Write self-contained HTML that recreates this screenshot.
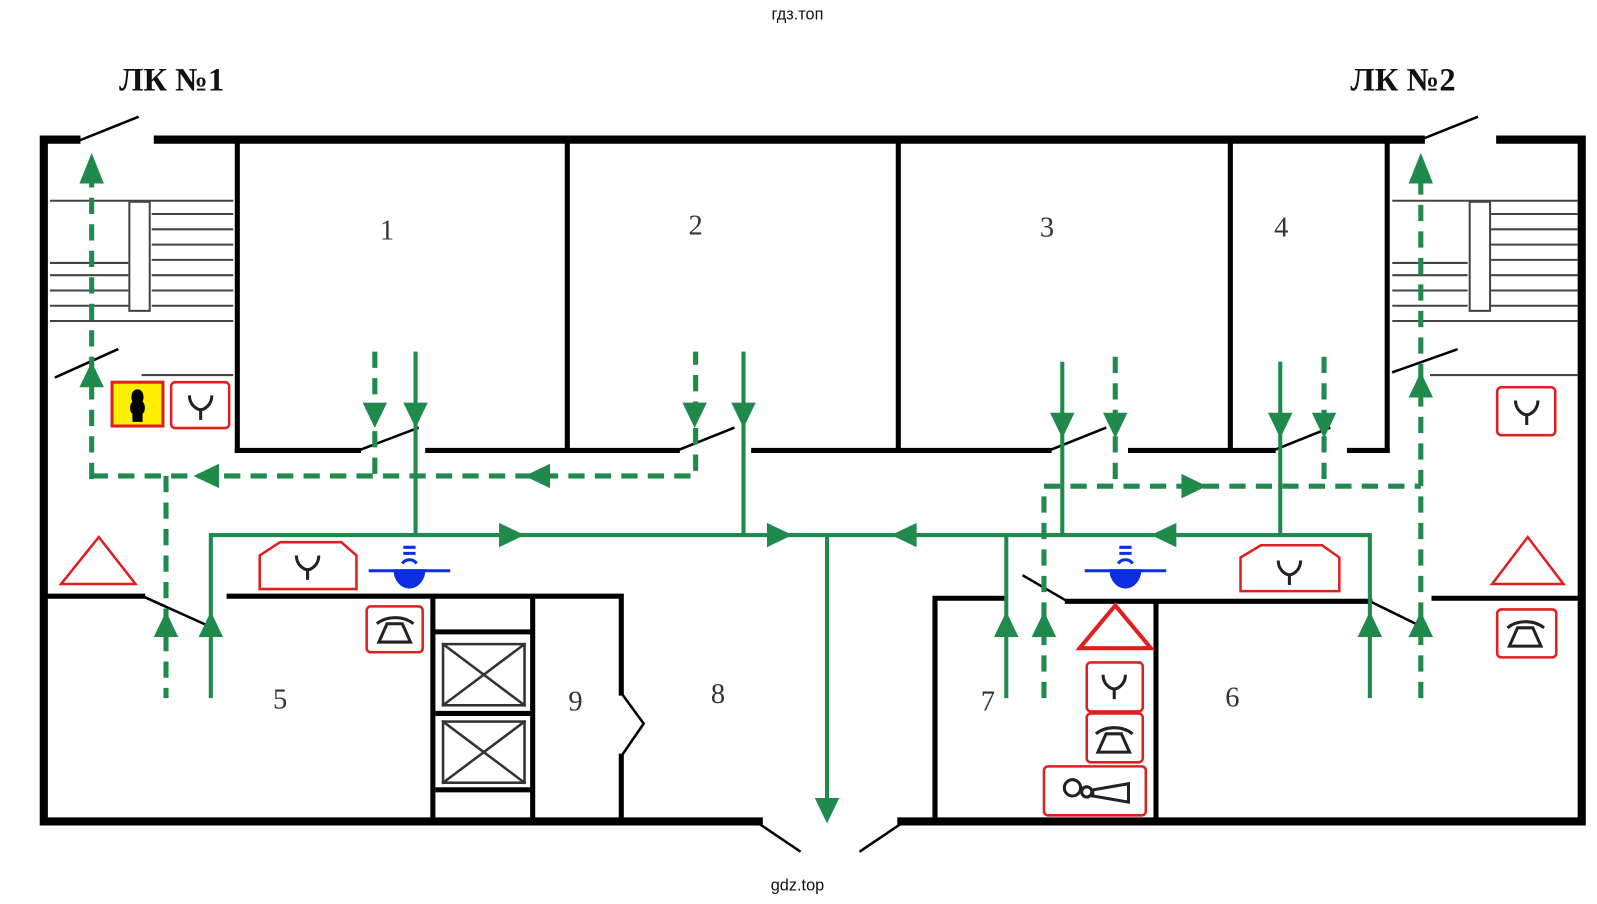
<!DOCTYPE html>
<html><head><meta charset="utf-8"><style>html,body{margin:0;padding:0;background:#fff}svg{display:block}</style></head><body>
<svg width="1597" height="904" viewBox="0 0 1568 887" preserveAspectRatio="none" xmlns="http://www.w3.org/2000/svg">
<g font-family="Liberation Sans, sans-serif" font-size="16" fill="#111" text-anchor="middle">
<text x="783" y="19">гдз.топ</text><text x="783" y="874">gdz.top</text></g>
<g font-family="Liberation Serif, serif" font-weight="bold" font-size="32" fill="#111">
<text x="117" y="89">ЛК №1</text><text x="1326" y="89">ЛК №2</text></g>
<g font-family="Liberation Serif, serif" font-size="28" fill="#333" text-anchor="middle">
<text x="380" y="235">1</text><text x="683" y="230">2</text><text x="1028" y="232">3</text><text x="1258" y="232">4</text>
<text x="275" y="695">5</text><text x="565" y="697">9</text><text x="705" y="690">8</text><text x="970" y="697">7</text><text x="1210" y="693">6</text></g>
<g stroke="#000" fill="none" stroke-linecap="square">
<path stroke-width="8" d="M75 137H43V806H745M885 806H1553V137H1473M155 137H1395"/>
<g stroke-width="5">
<path d="M233 137V442M557 137V442M882 137V442M1208 137V442M1362 137V442"/>
<path d="M233 442H352M420 442H555M560 442H665M740 442H880M885 442H1030M1110 442H1205M1210 442H1250M1325 442H1362"/>
<path d="M43 585H140M225 585H610M610 585V680M610 742V806M425 585V806M523 585V806"/>
<path d="M918 806V587H985M1048 590H1345M1408 587H1553M1135 590V806"/>
<path d="M430 620H520M430 700H520M430 775H520"/>
</g>
<g stroke-width="2.5">
<path d="M80 137L135 115M1395 137L1450 115M745 808L785 835M885 808L845 835"/>
<path d="M352 442L410 420M665 442L720 420M1030 442L1085 420M1250 442L1305 420"/>
<path d="M140 585L200 612M1005 565L1048 590M1345 590L1390 612M55 370L115 343M1368 365L1430 343"/>
<path d="M610 680L632 710L610 742"/>
</g>
<g stroke-width="2" stroke="#444">
<path d="M50 197H228M50 315H228M140 368H228M50 258H125M50 270H125M50 285H125M50 300H125"/>
<path d="M150 210H228M150 225H228M150 240H228M150 255H228M150 270H228M150 285H228M150 300H228"/>
<rect x="127" y="198" width="20" height="107"/>
<path d="M1368 197H1548M1368 315H1548M1405 368H1548M1368 258H1440M1368 270H1440M1368 285H1440M1368 300H1440"/>
<path d="M1465 210H1548M1465 225H1548M1465 240H1548M1465 255H1548M1465 270H1548M1465 285H1548M1465 300H1548"/>
<rect x="1443" y="198" width="20" height="107"/>
</g>
<g stroke-width="2.5" stroke="#333"><rect x="435" y="632" width="80" height="60"/><path d="M435 632L515 692M515 632L435 692"/>
<rect x="435" y="708" width="80" height="60"/><path d="M435 708L515 768M515 708L435 768"/></g>
</g>
<g stroke="#1f8a4c" stroke-width="4" fill="none">
<path d="M207 685V525H1345V685M408 345V525M730 345V525M812 525V800M1043 355V525M1257 355V525M988 525V685"/>
</g>
<g stroke="#1f8a4c" stroke-width="5" fill="none" stroke-dasharray="16 10">
<path d="M90 470V170M90 467H683V345M163 467V685M368 345V470"/>
<path d="M1025 685V477H1395M1395 685V170M1095 350V477M1300 350V477"/>
</g>
<g fill="#1f8a4c">
<path d="M396 395h24l-12 25z M356 395h24l-12 25z M718 395h24l-12 25z M670 395h24l-12 25z M1031 405h24l-12 25z M1083 405h24l-12 25z M1245 405h24l-12 25z M1288 405h24l-12 25z M800 783h24l-12 25z"/>
<path d="M195 625h24l-12-25z M151 625h24l-12-25z M976 625h24l-12-25z M1013 625h24l-12-25z M1333 625h24l-12-25z M1383 625h24l-12-25z M78 180h24l-12-30z M78 380h24l-12-25z M1383 180h24l-12-30z M1383 390h24l-12-25z"/>
<path d="M490 513v24l25-12z M753 513v24l25-12z M1160 465v24l25-12z"/>
<path d="M900 513v24l-25-12z M1155 513v24l-25-12z M215 455v24l-25-12z M540 455v24l-25-12z"/>
</g>
<g fill="none" stroke="#e02020" stroke-width="2.5">
<path d="M60 573L97 527L133 573Z M1465 573L1500 527L1535 573Z"/>
<path stroke-width="4" d="M1060 636L1095 594L1130 636Z"/>
<path d="M255 578V545L275 532H335L350 545V578Z M1218 580V547L1238 535H1298L1315 547V580Z"/>
<rect x="168" y="375" width="57" height="45" rx="4"/><rect x="1470" y="380" width="57" height="47" rx="4"/>
<rect x="360" y="595" width="55" height="45" rx="4"/><rect x="1470" y="598" width="58" height="47" rx="4"/>
<rect x="1067" y="650" width="55" height="48" rx="4"/><rect x="1067" y="700" width="55" height="48" rx="4"/><rect x="1025" y="752" width="100" height="48" rx="4"/>
</g>
<rect x="110" y="375" width="50" height="43" fill="#ffee00" stroke="#e02020" stroke-width="3"/>
<path d="M135 382c-6 0-7 8-5 12c-3 3-3 10 0 12v8h10v-8c3-2 3-9 0-12c2-4 1-12-5-12z" fill="#000"/>
<g stroke="#222" stroke-width="3" fill="none">
<path d="M186 388c0 10 8 14 11 14s11-4 11-14M197 402v10"/>
<path d="M1488 393c0 10 8 14 11 14s11-4 11-14M1499 407v10"/>
<path d="M291 545c0 10 8 14 11 14s11-4 11-14M302 559v10"/>
<path d="M1255 550c0 10 8 14 11 14s11-4 11-14M1266 564v10"/>
<path d="M1083 662c0 10 8 14 11 14s11-4 11-14M1094 676v10"/>
<path d="M372 630l8-18h15l8 18zM370 612c10-8 26-8 36 0"/>
<path d="M1482 634l8-18h15l8 18zM1480 616c10-8 26-8 36 0"/>
<path d="M1078 738l8-18h15l8 18zM1076 720c10-8 26-8 36 0"/>
<circle cx="1053" cy="773" r="8"/><circle cx="1067" cy="777" r="5"/><path d="M1073 775l35-6v18l-35-6z"/>
</g>
<g fill="#0a2ee0" stroke="#0a2ee0" stroke-width="3">
<path d="M362 560H442M1065 560H1145"/><path d="M388 560h28c0 8-6 16-14 16s-14-8-14-16z M1091 560h28c0 8-6 16-14 16s-14-8-14-16z"/>
<path d="M396 537h12M396 543h12M1099 537h12M1099 543h12"/><path d="M395 553c3-5 11-5 14 0M1098 553c3-5 11-5 14 0" fill="none"/>
</g>
</svg>
</body></html>
